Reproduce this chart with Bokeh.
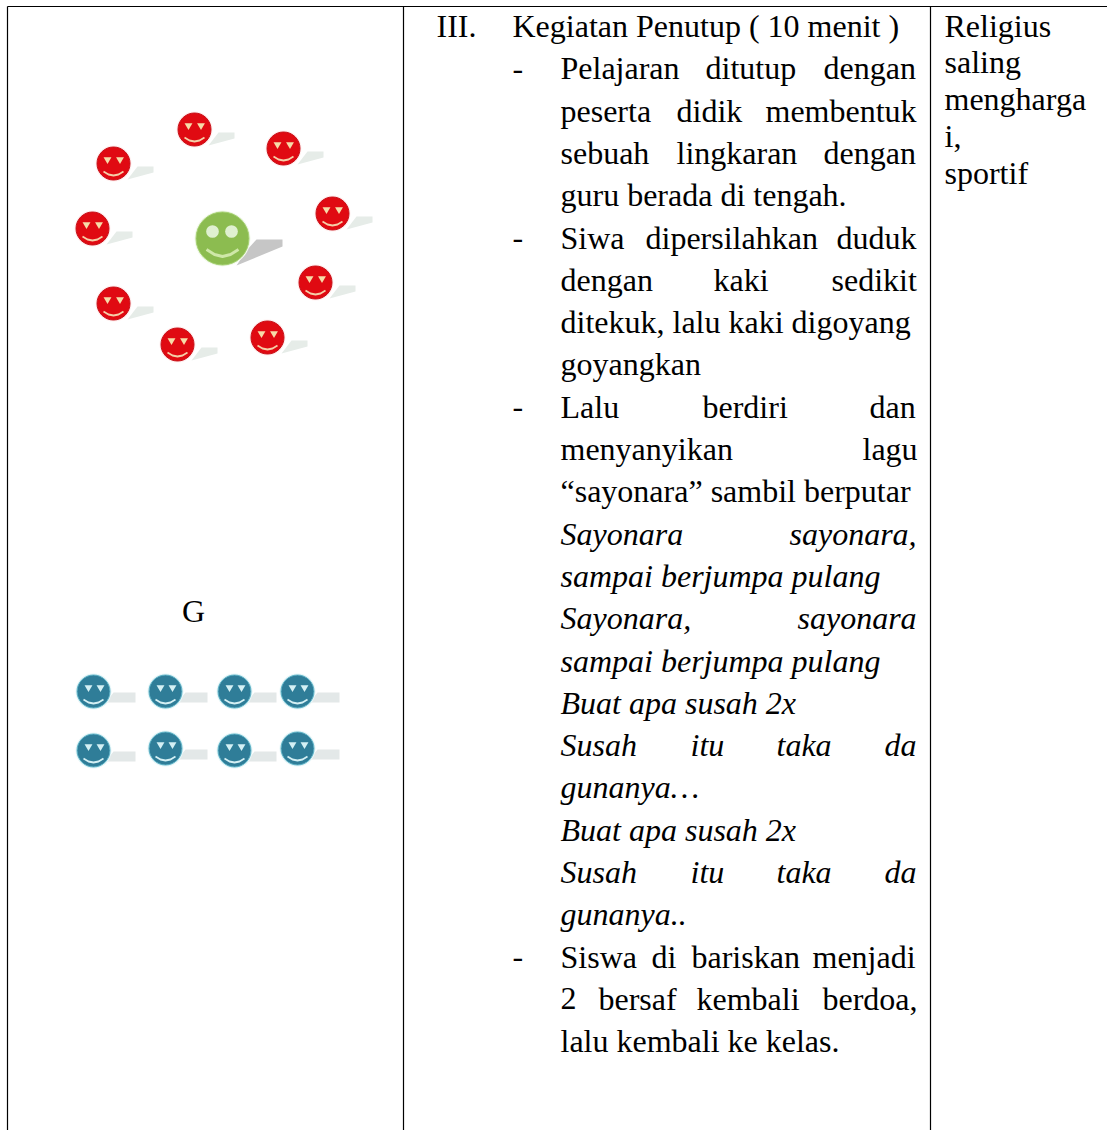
from bokeh.plotting import figure
from bokeh.models import ColumnDataSource, Range1d
from bokeh.core.properties import value
from bokeh.embed import file_html
from bokeh.resources import INLINE

W, H = 1107, 1130
FONT = "Liberation Serif"
FS = "32px"

# Table rules
V_X = [7, 403, 930]
TOP_Y = 6

# Smiley positions
RED_X = [194, 283, 113, 332, 92, 315, 113, 267, 177]
RED_Y = [129, 148, 163, 213, 228, 282, 303, 337, 344]
GREEN_X = [222]
GREEN_Y = [238]
BLUE_X = [93, 165, 234, 297, 93, 165, 234, 297]
BLUE_Y = [691, 691, 691, 691, 750, 748, 750, 748]

LINE0 = 25.5
STEP = 42.3
TEXT_DX = -1
# line number, left x, word
ROMAN_WORDS = [
    (0, 437, "III."), (0, 513, "Kegiatan Penutup ( 10 menit )"),
    (1, 561, "Pelajaran"), (1, 706, "ditutup"), (1, 824, "dengan"),
    (2, 561, "peserta"), (2, 677, "didik"), (2, 766, "membentuk"),
    (3, 561, "sebuah"), (3, 677, "lingkaran"), (3, 824, "dengan"),
    (4, 561, "guru berada di tengah."),
    (5, 561, "Siwa"), (5, 646, "dipersilahkan"), (5, 837, "duduk"),
    (6, 561, "dengan"), (6, 714, "kaki"), (6, 832, "sedikit"),
    (7, 561, "ditekuk, lalu kaki digoyang"),
    (8, 561, "goyangkan"),
    (9, 561, "Lalu"), (9, 703, "berdiri"), (9, 870, "dan"),
    (10, 561, "menyanyikan"), (10, 863, "lagu"),
    (11, 561, "“sayonara” sambil berputar"),
    (22, 561, "Siswa"), (22, 652, "di"), (22, 692, "bariskan"), (22, 813, "menjadi"),
    (23, 561, "2"), (23, 599, "bersaf"), (23, 697, "kembali"), (23, 823, "berdoa,"),
    (24, 561, "lalu kembali ke kelas."),
]
ITALIC_WORDS = [
    (12, 561, "Sayonara"), (12, 790, "sayonara,"),
    (13, 561, "sampai berjumpa pulang"),
    (14, 561, "Sayonara,"), (14, 798, "sayonara"),
    (15, 561, "sampai berjumpa pulang"),
    (16, 561, "Buat apa susah 2x"),
    (17, 561, "Susah"), (17, 691, "itu"), (17, 777, "taka"), (17, 885, "da"),
    (18, 561, "gunanya…"),
    (19, 561, "Buat apa susah 2x"),
    (20, 561, "Susah"), (20, 691, "itu"), (20, 777, "taka"), (20, 885, "da"),
    (21, 561, "gunanya.."),
]
DASH_LINES = [1, 5, 9, 22]
SIDE_WORDS = ["Religius", "saling", "mengharga", "i,", "sportif"]
SIDE_Y = [25, 61, 98, 135, 172]

p = figure(width=W, height=H, output_backend="svg", toolbar_location=None,
           x_range=Range1d(0, W), y_range=Range1d(H, 0),
           x_axis_type=None, y_axis_type=None, min_border=0,
           outline_line_color=None, background_fill_color="white",
           margin=(0, 0, 0, 0))
p.grid.visible = False

# rules
p.segment(x0=V_X, y0=[TOP_Y] * 3, x1=V_X, y1=[H] * 3, line_color="black", line_width=1.2)
p.segment(x0=[V_X[0]], y0=[TOP_Y], x1=[W], y1=[TOP_Y], line_color="black", line_width=1.2)


def smiley(xs, ys, size, face, edge, eye, mouth, shadow, halo, shadow_pts, eyes, mouth_pts, marker):
    p.patches([[x + dx for dx, _ in shadow_pts] for x in xs],
              [[y + dy for _, dy in shadow_pts] for y in ys],
              fill_color=shadow, line_color=None)
    p.scatter(xs, ys, size=size + 3, marker="circle", fill_color=halo, line_color=None)
    p.scatter(xs, ys, size=size, marker="circle", fill_color=face, line_color=edge, line_width=1)
    for ex, ey in eyes:
        p.scatter([x + ex for x in xs], [y + ey for y in ys], size=size * 0.24,
                  marker=marker, fill_color=eye, line_color=None)
    p.multi_line([[x + dx for dx, _ in mouth_pts] for x in xs],
                 [[y + dy for _, dy in mouth_pts] for y in ys],
                 line_color=mouth, line_width=size * 0.055)


smiley(RED_X, RED_Y, 33, "#e00a12", "#c81018", "#f6dca8", "#f4cfa8", "#e6ece8", "#ffeeee",
       [(14, 16), (40, 9), (40, 3), (24, 3)], [(-6, -4), (6.5, -4)],
       [(-10, 8), (-5, 11), (0, 12), (5, 11), (10, 8)], "inverted_triangle")
smiley(GREEN_X, GREEN_Y, 53, "#8cbc50", "#a4cf70", "#dff0d0", "#cfe8a8", "#c6c6c6", "#f0f8e8",
       [(14, 27), (60, 8), (60, 1), (34, 1), (24, 12)], [(-10, -7), (9, -7)],
       [(-16, 11), (-8, 16), (0, 18), (8, 16), (16, 11)], "circle")
smiley(BLUE_X, BLUE_Y, 33, "#2f7d98", "#5fb4c8", "#d4f0f4", "#d4f0f4", "#e3e8e8", "#e6f6f8",
       [(12, 11), (42, 11), (42, 1), (20, 1)], [(-5, -4), (7, -4)],
       [(-10, 8), (-5, 11), (0, 12), (5, 11), (10, 8)], "inverted_triangle")


def words(rows, style):
    src = ColumnDataSource(dict(x=[r[1] + TEXT_DX for r in rows],
                                y=[LINE0 + STEP * r[0] for r in rows],
                                t=[r[2] for r in rows]))
    p.text("x", "y", text="t", source=src, text_font=value(FONT), text_font_size=value(FS),
           text_font_style=style, text_color="black", text_baseline="alphabetic", text_align="left")


words(ROMAN_WORDS, "normal")
words(ITALIC_WORDS, "italic")
words([(n, 513, "-") for n in DASH_LINES], "normal")

p.text(x=[945 + TEXT_DX] * len(SIDE_WORDS), y=SIDE_Y, text=SIDE_WORDS, text_font=value(FONT),
       text_font_size=value(FS), text_color="black", text_baseline="alphabetic")
p.text(x=[193], y=[610], text=["G"], text_font=value(FONT), text_font_size=value(FS),
       text_color="black", text_align="center", text_baseline="alphabetic")

open("out.html", "w").write(file_html(p, INLINE))
